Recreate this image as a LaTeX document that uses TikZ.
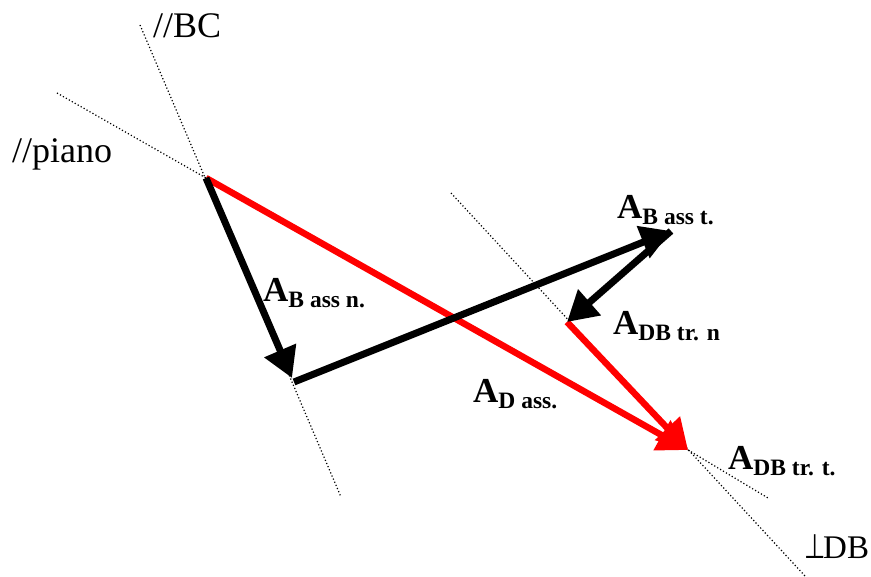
\documentclass[tikz,border=0pt]{standalone}
\usepackage{fontspec}
\setmainfont{Liberation Serif}
\newfontfamily\perpfont{DejaVu Sans}
\usetikzlibrary{arrows.meta}
\tikzset{
  vec/.style={-{Triangle[length=30pt,width=33pt]}},
  blackvec/.style={vec, black, line width=7pt},
  redvec/.style={vec, red, line width=6.5pt},
  guide/.style={line width=1.2pt, dash pattern=on 1.2pt off 2.2pt, black},
  lbl/.style={anchor=base west, inner sep=0pt, font=\fontsize{36}{36}\selectfont},
  vlbl/.style={anchor=base west, inner sep=0pt, font=\fontsize{35}{35}\selectfont\bfseries}
}
\newcommand{\vsub}[1]{\raisebox{-5.5pt}{\fontsize{23.5}{23.5}\selectfont\bfseries #1}}
\begin{document}
\begin{tikzpicture}[x=1pt,y=-1pt]
\useasboundingbox (0,0) rectangle (871,577);
% points
\coordinate (P) at (206,178);
\coordinate (Q) at (292,378);
\coordinate (Q2) at (294,382);
\coordinate (R) at (671,231);
\coordinate (S) at (567,322);
\coordinate (T) at (688,450);
% guide line ends
\coordinate (bc1) at (140,25);
\coordinate (bc2) at (341,497);
\coordinate (pi1) at (57,93);
\coordinate (db1) at (451,193);
\coordinate (db2) at (805,576);
\coordinate (tt2) at (768,498);
% guides
\draw[guide] (bc1) -- (bc2);
\draw[guide] (pi1) -- (P);
\draw[guide] (db1) -- (db2);
\draw[guide] (T) -- (tt2);
% vectors
\draw[redvec] (P) -- (T);
\draw[redvec] (S) -- (T);
\draw[blackvec] (P) -- (Q);
\draw[blackvec] (Q2) -- (R);
\draw[blackvec] (R) -- (S);
% labels
\node[lbl] (lbc) at (153,38) {//BC};
\node[lbl] (lpiano) at (12,163) {//piano};
\node[lbl, font=\fontsize{33}{33}\selectfont] (ldb) at (804,558) {\makebox[19pt][l]{\perpfont\fontsize{34}{34}\selectfont\scalebox{0.72}[1]{⊥}}DB};
\node[vlbl] (lbn) at (263,302) {A\vsub{B ass n.}};
\node[vlbl] (lbt) at (617,219) {A\vsub{B ass t.}};
\node[vlbl] (ltn) at (613,335) {A\vsub{DB tr. n}};
\node[vlbl] (lda) at (473,403) {A\vsub{D ass.}};
\node[vlbl] (ltt) at (728,470) {A\vsub{DB tr. t.}};
\end{tikzpicture}
\end{document}
